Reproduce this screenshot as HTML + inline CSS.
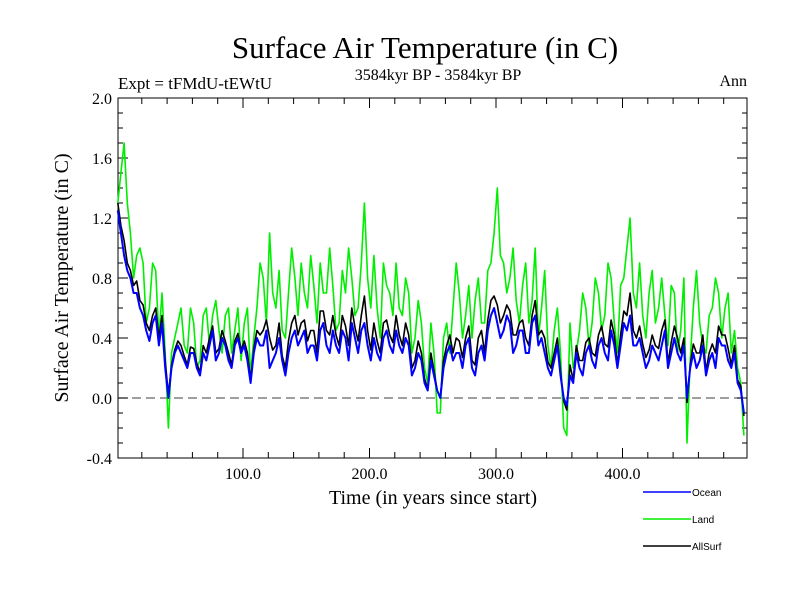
<!DOCTYPE html>
<html><head><meta charset="utf-8"><style>
body{margin:0;background:#fff;}
svg text{font-family:"Liberation Serif",serif;fill:#000;}
</style></head><body>
<svg id="chart" width="800" height="600" viewBox="0 0 800 600">
<text x="425" y="58" font-size="31" text-anchor="middle">Surface Air Temperature (in C)</text>
<text x="118" y="89" font-size="17">Expt = tFMdU-tEWtU</text>
<text x="438" y="80" font-size="16" text-anchor="middle">3584kyr BP - 3584kyr BP</text>
<text x="747" y="86" font-size="16" text-anchor="end">Ann</text>
<text transform="translate(68,278) rotate(-90)" font-size="20" text-anchor="middle">Surface Air Temperature (in C)</text>
<text x="433" y="504" font-size="20" text-anchor="middle">Time (in years since start)</text>
<g id="axes"></g>
<g id="series"></g>
<g id="legend"></g>
</svg>
<script>
const years=[];for(let i=0;i<100;i++)years.push(i*5);
const ocean=[1.25,0.95,0.8,0.7,0.55,0.38,0.55,0.5,0.0,0.3,
0.3,0.2,0.3,0.15,0.25,0.45,0.3,0.35,0.2,0.4,
0.35,0.1,0.4,0.35,0.2,0.3,0.25,0.3,0.45,0.4,
0.3,0.35,0.45,0.35,0.45,0.3,0.4,0.5,0.3,0.5,
0.25,0.3,0.4,0.35,0.45,0.3,0.35,0.2,0.25,0.05,
0.15,0.0,0.3,0.25,0.3,0.35,0.2,0.3,0.25,0.55,
0.5,0.45,0.5,0.35,0.45,0.3,0.55,0.4,0.2,0.25,
0.15,-0.05,0.1,0.2,0.3,0.25,0.35,0.3,0.45,0.2,
0.5,0.55,0.35,0.3,0.25,0.3,0.35,0.2,0.4,0.25,
0.0,0.3,0.25,0.15,0.3,0.4,0.35,0.2,0.1,-0.1];
const oceanMid=[1.1,0.85,0.7,0.6,0.45,0.5,0.35,0.2,0.2,0.35,
0.25,0.3,0.2,0.3,0.35,0.25,0.4,0.25,0.35,0.3,
0.25,0.3,0.35,0.45,0.25,0.4,0.15,0.4,0.35,0.45,
0.35,0.25,0.5,0.3,0.35,0.45,0.25,0.4,0.45,0.35,
0.4,0.25,0.45,0.3,0.35,0.4,0.15,0.3,0.1,0.25,
0.05,0.2,0.35,0.3,0.2,0.4,0.15,0.35,0.45,0.6,
0.4,0.55,0.3,0.45,0.3,0.5,0.35,0.3,0.15,0.35,
0.0,0.15,0.3,0.15,0.35,0.2,0.4,0.25,0.35,0.35,
0.45,0.35,0.4,0.2,0.35,0.25,0.45,0.3,0.3,0.35,
0.2,0.2,0.35,0.25,0.2,0.35,0.25,0.3,0.05,-0.05];
const land=[1.3,1.7,1.1,0.95,0.9,0.6,0.85,0.7,-0.2,0.4,
0.6,0.3,0.5,0.25,0.6,0.55,0.45,0.55,0.3,0.6,
0.5,0.15,0.6,0.8,1.1,0.6,0.45,0.7,0.8,0.9,
0.6,0.75,0.9,0.7,0.75,0.5,0.7,0.8,0.6,1.3,
0.6,0.6,0.9,0.7,0.9,0.55,0.7,0.4,0.5,0.1,
0.3,-0.1,0.5,0.6,0.7,0.55,0.4,0.8,0.5,0.9,
1.4,0.9,0.8,0.65,0.75,0.5,1.0,0.6,0.35,0.45,
0.3,-0.25,0.2,0.45,0.6,0.5,0.7,0.55,0.8,0.3,
0.8,1.2,0.6,0.55,0.7,0.5,0.8,0.35,0.7,0.45,
-0.3,0.6,0.5,0.3,0.6,0.7,0.6,0.3,0.2,-0.25];
const landMid=[1.5,1.3,0.8,1.0,0.5,0.9,0.4,0.3,0.3,0.5,
0.35,0.6,0.2,0.55,0.35,0.65,0.3,0.6,0.45,0.25,
0.6,0.4,0.9,0.5,0.7,0.85,0.4,1.0,0.55,0.7,
0.95,0.5,0.7,1.0,0.45,0.85,1.0,0.55,0.9,0.8,
0.95,0.4,0.75,0.55,0.6,0.8,0.3,0.65,0.2,0.5,
-0.1,0.4,0.3,0.9,0.4,0.75,0.65,0.5,0.85,1.1,
0.95,0.7,1.0,0.5,0.9,0.65,0.4,0.85,0.2,0.6,
-0.2,0.5,0.3,0.7,0.35,0.8,0.45,0.9,0.5,0.75,
1.0,0.7,0.9,0.4,0.85,0.6,0.55,0.75,0.3,0.8,
0.25,0.85,0.35,0.55,0.8,0.4,0.7,0.45,0.1,-0.2];
const allsurf=[1.3,1.05,0.85,0.78,0.62,0.45,0.6,0.55,0.02,0.32,
0.35,0.22,0.33,0.17,0.3,0.48,0.33,0.38,0.22,0.43,
0.38,0.12,0.45,0.45,0.4,0.35,0.28,0.38,0.55,0.5,
0.38,0.45,0.58,0.45,0.55,0.35,0.48,0.6,0.38,0.68,
0.32,0.38,0.5,0.42,0.55,0.35,0.42,0.25,0.3,0.06,
0.18,0.0,0.35,0.3,0.38,0.4,0.25,0.4,0.3,0.65,
0.62,0.55,0.58,0.42,0.52,0.35,0.65,0.45,0.24,0.3,
0.18,-0.08,0.12,0.25,0.37,0.3,0.42,0.36,0.52,0.22,
0.58,0.7,0.4,0.36,0.32,0.35,0.45,0.23,0.48,0.3,
-0.03,0.36,0.3,0.18,0.36,0.48,0.42,0.22,0.12,-0.12];
const allsurfMid=[1.15,0.9,0.75,0.65,0.5,0.55,0.4,0.25,0.22,0.38,
0.28,0.34,0.23,0.35,0.4,0.3,0.45,0.3,0.38,0.32,
0.3,0.33,0.42,0.52,0.32,0.5,0.2,0.5,0.42,0.52,
0.45,0.3,0.58,0.42,0.42,0.55,0.35,0.47,0.55,0.45,
0.5,0.3,0.52,0.37,0.42,0.5,0.2,0.38,0.13,0.3,
0.05,0.25,0.42,0.4,0.27,0.48,0.22,0.45,0.52,0.68,
0.5,0.62,0.42,0.5,0.4,0.55,0.42,0.4,0.2,0.4,
-0.02,0.22,0.35,0.25,0.4,0.28,0.48,0.34,0.42,0.42,
0.55,0.45,0.48,0.27,0.42,0.33,0.52,0.37,0.4,0.4,
0.22,0.3,0.42,0.3,0.3,0.42,0.33,0.35,0.08,-0.08];
const yTicks=[-0.4,0.0,0.4,0.8,1.2,1.6,2.0];
const yTickLabels=["-0.4","0.0","0.4","0.8","1.2","1.6","2.0"];
const xTicks=[100,200,300,400];
const xTickLabels=["100.0","200.0","300.0","400.0"];

const L=118,R=747,T=98,B=458;
const x=v=>116.5+(v)*1.265;
const y=v=>398-v*150;
const NS="http://www.w3.org/2000/svg";
function mk(tag,attrs,parent){const e=document.createElementNS(NS,tag);for(const k in attrs)e.setAttribute(k,attrs[k]);parent.appendChild(e);return e;}
const ax=document.getElementById('axes');
const frame=mk('rect',{x:L,y:T,width:R-L,height:B-T,fill:'none',stroke:'#000','stroke-width':1},ax);


const zl=mk('line',{x1:L,x2:R,y1:y(0),y2:y(0),stroke:'#666','stroke-dasharray':'9,5','stroke-width':1.2},ax);


for(let v=-0.4;v<=2.001;v+=0.1){const yy=y(v);const maj=Math.abs(Math.round(v*10)%4)===0;const len=maj?10:5;
mk('line',{x1:L,x2:L+len,y1:yy,y2:yy,stroke:'#000'},ax);mk('line',{x1:R-len,x2:R,y1:yy,y2:yy,stroke:'#000'},ax);}
for(let v=20;v<500;v+=20){const xx=x(v);const len=(v%100===0)?10:6;
mk('line',{x1:xx,x2:xx,y1:B,y2:B-len,stroke:'#000'},ax);mk('line',{x1:xx,x2:xx,y1:T,y2:T+len,stroke:'#000'},ax);}
yTicks.forEach((v,i)=>{const t=mk('text',{x:112,y:y(v)+6,'font-size':16,'text-anchor':'end'},ax);t.textContent=yTickLabels[i];

});
xTicks.forEach((v,i)=>{const t=mk('text',{x:x(v),y:479,'font-size':16,'text-anchor':'middle'},ax);t.textContent=xTickLabels[i];

});
const sg=document.getElementById('series');
function line(data,mid,color,w,name){const pts=[];
data.forEach((v,i)=>{pts.push([years[i]+1,v]);if(i<mid.length&&years[i]+3.5<=498)pts.push([years[i]+3.5,mid[i]]);});
const d=pts.map((p,i)=>(i?'L':'M')+x(p[0]).toFixed(1)+','+y(p[1]).toFixed(1)).join('');
const p=mk('path',{d:d,fill:'none',stroke:color,'stroke-width':w,'stroke-linejoin':'round'},sg);

}
line(land,landMid,'#00ee00',1.6,'land-series');
line(allsurf,allsurfMid,'#000',1.6,'allsurf-series');
line(ocean,oceanMid,'#0000ff',2,'ocean-series');
const lg=document.getElementById('legend');
[['Ocean','#0000ff',492],['Land','#00ee00',519],['AllSurf','#000',546]].forEach(([n,c,yy])=>{
const g=mk('g',{},lg);


mk('line',{x1:643,x2:691,y1:yy,y2:yy,stroke:c,'stroke-width':1.5},g);
const t=mk('text',{x:692,y:yy+4,'font-size':10,style:'font-family:"Liberation Sans",sans-serif'},g);t.textContent=n;});
</script>
</body></html>
